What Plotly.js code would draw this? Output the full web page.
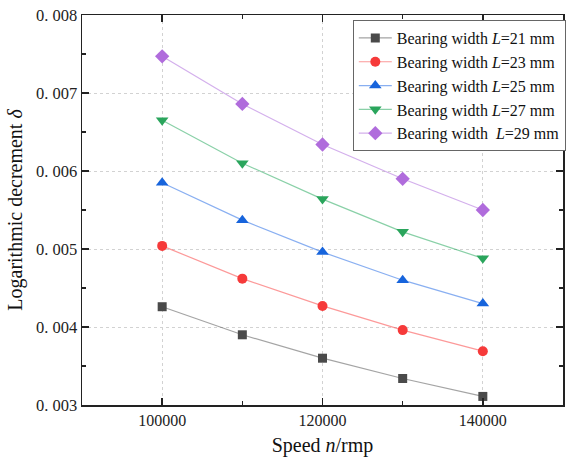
<!DOCTYPE html>
<html>
<head>
<meta charset="utf-8">
<script src="https://cdn.plot.ly/plotly-3.0.1.min.js"></script>
<style>html,body{margin:0;padding:0;background:#fff;}#chart{width:567px;height:463px;}</style>
</head>
<body>
<div id="chart"></div>
<script>
const speeds = [100000, 110000, 120000, 130000, 140000];
const deltaL21 = [0.00426, 0.00390, 0.00360, 0.00334, 0.00311];
const deltaL23 = [0.00504, 0.00462, 0.00427, 0.00396, 0.00369];
const deltaL25 = [0.00585, 0.00537, 0.00496, 0.00460, 0.00430];
const deltaL27 = [0.00665, 0.00610, 0.00564, 0.00522, 0.00488];
const deltaL29 = [0.00747, 0.00686, 0.00634, 0.00590, 0.00550];
const seriesNames = [
  'Bearing width <i>L</i>=21 mm',
  'Bearing width <i>L</i>=23 mm',
  'Bearing width <i>L</i>=25 mm',
  'Bearing width <i>L</i>=27 mm',
  'Bearing width \u00a0<i>L</i>=29 mm'
];
const yTickVals = [0.003, 0.004, 0.005, 0.006, 0.007, 0.008];
const yTickText = ['0. 003', '0. 004', '0. 005', '0. 006', '0. 007', '0. 008'];

const styles = [
  {m: '#4a4a4a', l: 'rgba(90,90,90,0.55)', s: 'square', z: 9},
  {m: '#f63a3a', l: 'rgba(250,70,70,0.55)', s: 'circle', z: 10},
  {m: '#1764dc', l: 'rgba(40,110,230,0.55)', s: 'triangle-up', z: 11},
  {m: '#2aa55c', l: 'rgba(40,170,95,0.55)', s: 'triangle-down', z: 11},
  {m: '#b06cdc', l: 'rgba(175,110,220,0.55)', s: 'diamond', z: 11}
];
const allY = [deltaL21, deltaL23, deltaL25, deltaL27, deltaL29];
const traces = allY.map((ys, i) => ({
  x: speeds, y: ys, name: seriesNames[i], type: 'scatter', mode: 'lines+markers',
  line: {color: styles[i].l, width: 1.2},
  marker: {symbol: styles[i].s, size: styles[i].z, color: styles[i].m, line: {width: 0}}
}));

const font = 'Liberation Serif, Times New Roman, serif';
const layout = {
  width: 567, height: 463,
  margin: {l: 82, r: 1, t: 15, b: 58},
  paper_bgcolor: '#fff', plot_bgcolor: '#fff',
  font: {family: font, color: '#222', size: 16},
  showlegend: true,
  legend: {
    x: 0.563, y: 0.987, xanchor: 'left', yanchor: 'top',
    bordercolor: '#666', borderwidth: 1, bgcolor: '#fff', itemwidth: 33,
    font: {family: font, size: 16, color: '#111'}, tracegroupgap: 0
  },
  xaxis: {
    range: [90000, 150000], tickmode: 'linear', tick0: 100000, dtick: 20000, tickformat: 'd',
    ticks: 'inside', ticklen: 7, tickwidth: 1.5, tickcolor: '#222',
    showline: true, linecolor: '#222', linewidth: 1.5, mirror: 'ticks',
    showgrid: true, gridcolor: '#d2d2d2', griddash: 'dot', gridwidth: 1,
    zeroline: false,
    minor: {tickmode: 'linear', tick0: 90000, dtick: 10000, ticks: 'inside', ticklen: 4, tickwidth: 1.5, tickcolor: '#222', showgrid: false},
    tickfont: {family: font, size: 16, color: '#222'},
    title: {text: 'Speed <i>n</i>/rmp', font: {family: font, size: 20, color: '#111'}, standoff: 10}
  },
  yaxis: {
    range: [0.003, 0.008], tickmode: 'array', tickvals: yTickVals, ticktext: yTickText,
    ticks: 'inside', ticklen: 7, tickwidth: 1.5, tickcolor: '#222',
    showline: true, linecolor: '#222', linewidth: 1.5, mirror: 'ticks',
    showgrid: true, gridcolor: '#d2d2d2', griddash: 'dot', gridwidth: 1,
    zeroline: false,
    minor: {tickmode: 'linear', tick0: 0.0035, dtick: 0.001, ticks: 'inside', ticklen: 4, tickwidth: 1.5, tickcolor: '#222', showgrid: false},
    tickfont: {family: font, size: 16.5, color: '#222'},
    title: {text: 'Logarithmic decrement <i>δ</i>', font: {family: font, size: 20, color: '#111'}, standoff: 8}
  }
};
Plotly.newPlot('chart', traces, layout, {displayModeBar: false, staticPlot: true});
</script>
</body>
</html>
